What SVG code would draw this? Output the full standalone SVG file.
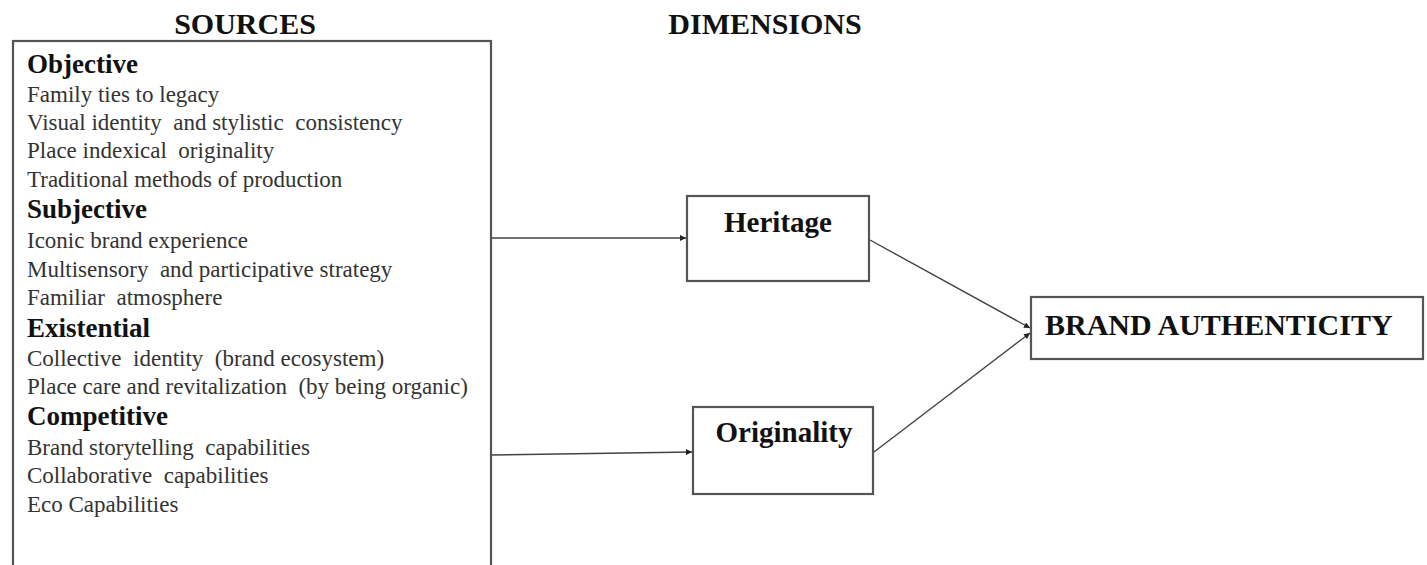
<svg xmlns="http://www.w3.org/2000/svg" width="1427" height="565" viewBox="0 0 1427 565">
<defs>
<style>
.box{fill:#fff;stroke:#555;stroke-width:2.2}
.hd{font-family:"Liberation Serif","Times New Roman",serif;font-weight:bold;fill:#111}
.cat{font-family:"Liberation Serif","Times New Roman",serif;font-weight:bold;font-size:27px;fill:#111}
.it{font-family:"Liberation Serif","Times New Roman",serif;font-size:23px;fill:#333;white-space:pre}
.con{stroke:#444;stroke-width:1.4;fill:none;marker-end:url(#ah)}
</style>
<marker id="ah" viewBox="0 0 10 10" refX="10" refY="5" markerWidth="7" markerHeight="6" markerUnits="userSpaceOnUse" orient="auto">
<path d="M0,0 L10,5 L0,10 z" fill="#222"/>
</marker>
</defs>
<rect width="1427" height="565" fill="#fff"/>
<text class="hd" x="245" y="34" font-size="30" text-anchor="middle">SOURCES</text>
<text class="hd" x="765" y="34" font-size="30" text-anchor="middle">DIMENSIONS</text>
<g id="sources">
<rect class="box" x="13" y="41" width="478" height="540"/>
<text class="cat" x="27" y="73">Objective</text>
<text class="it" x="27" y="102">Family ties to legacy</text>
<text class="it" x="27" y="130">Visual identity  and stylistic  consistency</text>
<text class="it" x="27" y="158">Place indexical  originality</text>
<text class="it" x="27" y="187">Traditional methods of production</text>
<text class="cat" x="27" y="218">Subjective</text>
<text class="it" x="27" y="248">Iconic brand experience</text>
<text class="it" x="27" y="277">Multisensory  and participative strategy</text>
<text class="it" x="27" y="305">Familiar  atmosphere</text>
<text class="cat" x="27" y="337">Existential</text>
<text class="it" x="27" y="366">Collective  identity  (brand ecosystem)</text>
<text class="it" x="27" y="394">Place care and revitalization  (by being organic)</text>
<text class="cat" x="27" y="425">Competitive</text>
<text class="it" x="27" y="455">Brand storytelling  capabilities</text>
<text class="it" x="27" y="483">Collaborative  capabilities</text>
<text class="it" x="27" y="512">Eco Capabilities</text>
</g>
<g id="heritage">
<rect class="box" x="687" y="196" width="182" height="85"/>
<text class="hd" x="778" y="232" font-size="29" text-anchor="middle">Heritage</text>
</g>
<g id="originality">
<rect class="box" x="693" y="407" width="180" height="87"/>
<text class="hd" x="784" y="442" font-size="29" text-anchor="middle">Originality</text>
</g>
<g id="brand-authenticity">
<rect class="box" x="1031" y="297" width="392" height="62"/>
<text class="hd" x="1045" y="335" font-size="30">BRAND AUTHENTICITY</text>
</g>
<g id="connectors">
<line class="con" x1="492" y1="238" x2="686" y2="238"/>
<line class="con" x1="492" y1="455" x2="692" y2="452"/>
<line class="con" x1="870" y1="240" x2="1030" y2="328"/>
<line class="con" x1="874" y1="452" x2="1030" y2="333"/>
</g>
</svg>
